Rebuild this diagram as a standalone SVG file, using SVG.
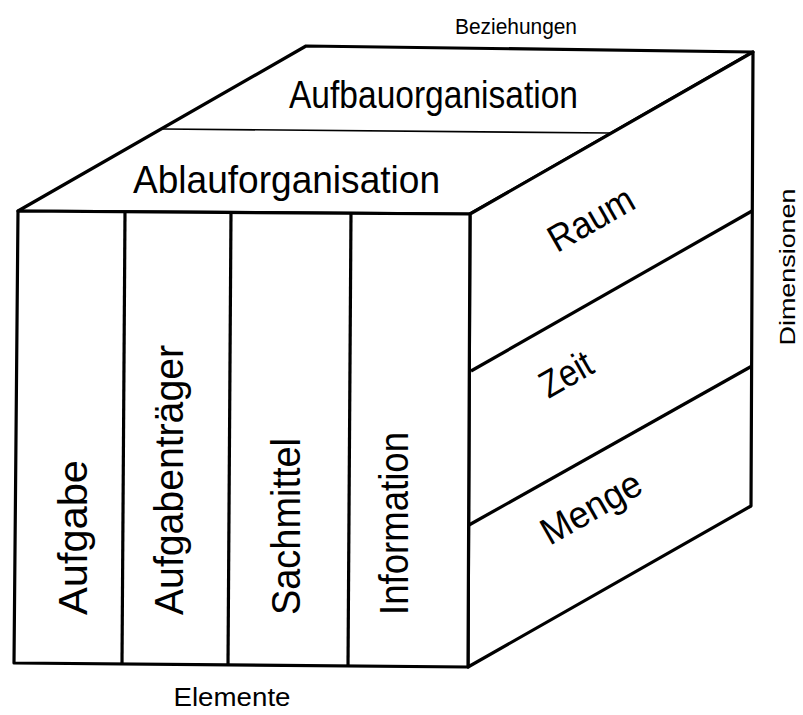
<svg xmlns="http://www.w3.org/2000/svg" width="803" height="715" viewBox="0 0 803 715">
<style>
.edge{fill:#fff;stroke:#000;stroke-width:3.2;stroke-linejoin:round}
.thin{fill:none;stroke:#000;stroke-width:1.6}
.div{fill:none;stroke:#000;stroke-width:3.2}
text{font-family:"Liberation Sans",Arial,sans-serif;fill:#000}
.big{font-size:38px}
.col{font-size:40px}
.side{font-size:38px}
.small{font-size:22px}
</style>
<rect width="803" height="715" fill="#fff"/>
<g id="top-face">
<polygon class="edge" points="18,211 306,46 753,52 470,214"/>
</g>
<g id="right-face">
<polygon class="edge" points="470,214 753,52 751,506 468,667"/>
</g>
<g id="front-face">
<polygon class="edge" points="18,211 470,214 468,667 14,663"/>
</g>
<g id="connectors">
<line class="thin" x1="163" y1="129" x2="610" y2="133"/>
<line class="div" x1="125" y1="212" x2="122" y2="664"/>
<line class="div" x1="231" y1="212" x2="228" y2="665"/>
<line class="div" x1="351" y1="213" x2="348" y2="666"/>
<line class="div" x1="471" y1="371" x2="752" y2="211"/>
<line class="div" x1="469" y1="525" x2="752" y2="366"/>
</g>
<g id="node-aufbauorganisation"><text class="big" x="289" y="108" textLength="289" lengthAdjust="spacingAndGlyphs">Aufbauorganisation</text></g>
<g id="node-ablauforganisation"><text class="big" x="133" y="193" textLength="307" lengthAdjust="spacingAndGlyphs">Ablauforganisation</text></g>
<g id="node-aufgabe"><text class="col" transform="translate(87,615) rotate(-90)" textLength="155" lengthAdjust="spacingAndGlyphs">Aufgabe</text></g>
<g id="node-aufgabentraeger"><text class="col" transform="translate(183,615) rotate(-90)" textLength="270" lengthAdjust="spacingAndGlyphs">Aufgabenträger</text></g>
<g id="node-sachmittel"><text class="col" transform="translate(300,615) rotate(-90)" textLength="177" lengthAdjust="spacingAndGlyphs">Sachmittel</text></g>
<g id="node-information"><text class="col" transform="translate(408,615) rotate(-90)" textLength="183" lengthAdjust="spacingAndGlyphs">Information</text></g>
<g id="node-raum"><text class="side" text-anchor="middle" transform="translate(591,219) rotate(-29.7)" y="13" textLength="93" lengthAdjust="spacingAndGlyphs">Raum</text></g>
<g id="node-zeit"><text class="side" text-anchor="middle" transform="translate(566,374) rotate(-29.7)" y="13" textLength="55" lengthAdjust="spacingAndGlyphs">Zeit</text></g>
<g id="node-menge"><text class="side" text-anchor="middle" transform="translate(593,511) rotate(-29.7)" y="9" textLength="110" lengthAdjust="spacingAndGlyphs">Menge</text></g>
<g id="label-beziehungen"><text class="small" x="516" y="34" text-anchor="middle" textLength="122" lengthAdjust="spacingAndGlyphs">Beziehungen</text></g>
<g id="label-elemente"><text x="232" y="706" text-anchor="middle" style="font-size:25px" textLength="117" lengthAdjust="spacingAndGlyphs">Elemente</text></g>
<g id="label-dimensionen"><text class="small" transform="translate(795,267) rotate(-90)" text-anchor="middle" textLength="157" lengthAdjust="spacingAndGlyphs">Dimensionen</text></g>
</svg>
